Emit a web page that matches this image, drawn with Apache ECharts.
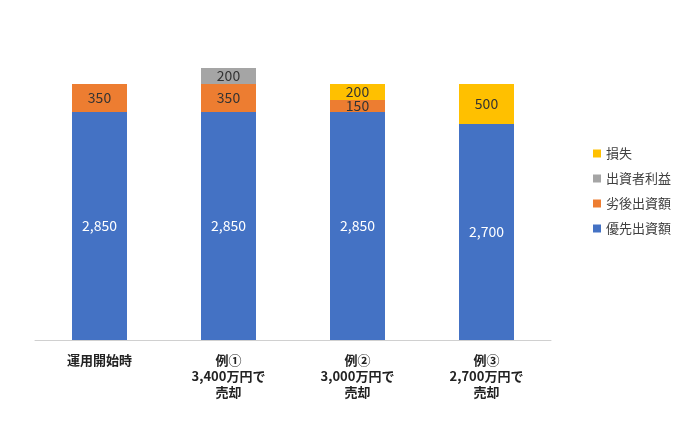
<!DOCTYPE html><html><head><meta charset="utf-8"><script src="https://cdn.jsdelivr.net/npm/echarts@6/dist/echarts.min.js"></script></head><body style="margin:0"><div id="c" style="width:700px;height:421px"></div><script>
const categories=['運用開始時','例①\n3,400万円で\n売却','例②\n3,000万円で\n売却','例③\n2,700万円で\n売却'];
const seniorVals=[2850,2850,2850,2700];
const juniorVals=[350,350,150,0];
const profitVals=[0,200,0,0];
const lossVals=[0,0,200,500];
const names=['優先出資額','劣後出資額','出資者利益','損失'];
const colors=['#4472C4','#ED7D31','#A5A5A5','#FFC000'];
const font='"Noto Sans CJK JP","Noto Sans",sans-serif';
const mk=(n,d,c,lc)=>({name:n,type:'bar',stack:'s',data:d,barWidth:55,itemStyle:{color:c},
 label:{show:true,color:lc,fontSize:14,fontFamily:font,formatter:p=>p.value?p.value.toLocaleString('en-US'):''}});
const ch=echarts.init(document.getElementById('c'));
ch.setOption({animation:false,
grid:{left:35,right:149,top:0,bottom:81},
legend:{orient:'vertical',left:588,top:142,itemGap:12,itemWidth:8,itemHeight:8,icon:'rect',
 data:[names[3],names[2],names[1],names[0]],textStyle:{fontSize:13,color:'#404040',fontFamily:font}},
xAxis:{type:'category',data:categories,axisTick:{show:false},axisLine:{lineStyle:{color:'#d0d0d0'}},
 axisLabel:{color:'#222',fontWeight:'bold',fontSize:13,lineHeight:16,fontFamily:font,margin:12}},
yAxis:{type:'value',min:0,max:4250,show:false,splitLine:{show:false}},
series:[mk(names[0],seniorVals,colors[0],'#fff'),mk(names[1],juniorVals,colors[1],'#333'),
 mk(names[2],profitVals,colors[2],'#333'),mk(names[3],lossVals,colors[3],'#333')]});
</script></body></html>
